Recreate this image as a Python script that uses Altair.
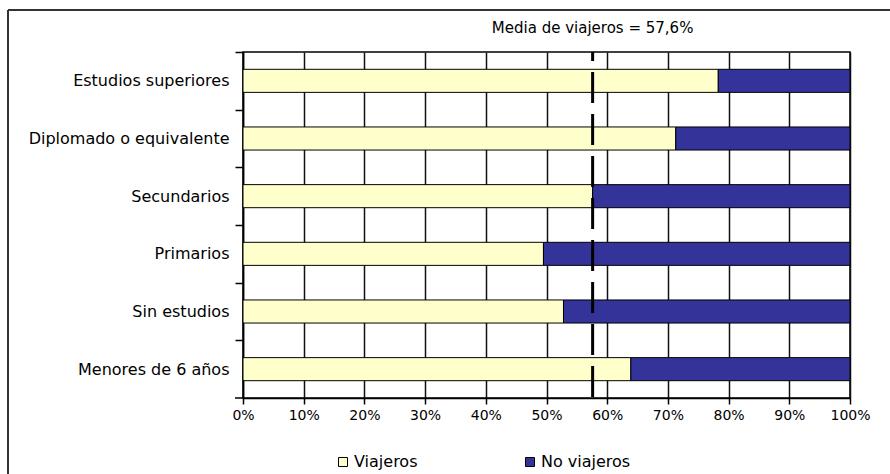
import altair as alt
import pandas as pd

# Share of travellers by education level (percent)
categories = [
    "Estudios superiores",
    "Diplomado o equivalente",
    "Secundarios",
    "Primarios",
    "Sin estudios",
    "Menores de 6 años",
]
viajeros = [78.3, 71.3, 57.6, 49.5, 52.8, 63.9]
no_viajeros = [21.7, 28.7, 42.4, 50.5, 47.2, 36.1]
series = ["Viajeros", "No viajeros"]
colors = ["#FFFFCC", "#333399"]
media = 57.6
media_label = "Media de viajeros = 57,6%"
x_ticks = [i / 10 for i in range(11)]

FONT = "DejaVu Sans"
W, H = 607, 346
HALF_STEP = H / len(categories) / 2

rows = []
for cat, v, nv in zip(categories, viajeros, no_viajeros):
    rows.append({"nivel": cat, "grupo": series[0], "orden": 0, "pct": v})
    rows.append({"nivel": cat, "grupo": series[1], "orden": 1, "pct": nv})
df = pd.DataFrame(rows)
media_df = pd.DataFrame({"x": [media / 100], "label": [media_label]})

x_scale = alt.Scale(domain=[0, 1], nice=False)

bars = alt.Chart(df).mark_bar(stroke="black", strokeWidth=1).encode(
    y=alt.Y(
        "nivel:N",
        sort=categories,
        title=None,
        scale=alt.Scale(paddingInner=0.6, paddingOuter=0.3),
        axis=alt.Axis(
            labelFont=FONT,
            labelFontSize=16,
            labelColor="black",
            labelPadding=6,
            labelLimit=300,
            tickOffset=-HALF_STEP,
            labelOffset=HALF_STEP,
            tickSize=8,
            tickColor="black",
            tickWidth=1.5,
            domainColor="black",
            domainWidth=1.5,
        ),
    ),
    x=alt.X(
        "pct:Q",
        stack="normalize",
        title=None,
        scale=x_scale,
        axis=alt.Axis(
            values=x_ticks,
            format=".0%",
            labelFont=FONT,
            labelFontSize=14,
            labelColor="black",
            labelPadding=4,
            labelFlush=False,
            tickSize=6,
            tickColor="black",
            tickWidth=1.5,
            domainColor="black",
            domainWidth=1.5,
            grid=True,
            gridColor="#111111",
            gridWidth=1.5,
        ),
    ),
    color=alt.Color(
        "grupo:N",
        sort=series,
        scale=alt.Scale(domain=series, range=colors),
        legend=alt.Legend(
            title=None,
            orient="none",
            legendX=92,
            legendY=402,
            direction="horizontal",
            columns=2,
            columnPadding=104,
            symbolType="square",
            symbolSize=81,
            symbolStrokeColor="black",
            symbolStrokeWidth=1,
            symbolOffset=0,
            labelFont=FONT,
            labelFontSize=16,
            labelColor="black",
            labelOffset=3,
        ),
    ),
    order=alt.Order("orden:Q"),
)

media_rule = alt.Chart(media_df).mark_rule(
    color="black", strokeWidth=3, strokeDash=[31, 11], strokeDashOffset=22
).encode(x=alt.X("x:Q", scale=x_scale))

media_text = alt.Chart(media_df).mark_text(
    font=FONT, fontSize=15, color="black", baseline="middle"
).encode(x=alt.X("x:Q", scale=x_scale), y=alt.value(-24), text="label:N")

# Closing tick of the category axis at the bottom-left corner
corner_tick = alt.Chart(media_df).mark_rule(color="black", strokeWidth=1.5).encode(
    x=alt.value(-8), x2=alt.value(0), y=alt.value(H)
)

# Outer frame around the figure
frame_left = alt.Chart(media_df).mark_rule(color="#333333", strokeWidth=2).encode(
    x=alt.value(-235), y=alt.value(-42), y2=alt.value(440)
)
frame_top = alt.Chart(media_df).mark_rule(color="#333333", strokeWidth=2).encode(
    x=alt.value(-235), x2=alt.value(660), y=alt.value(-42)
)

chart = (
    alt.layer(bars, media_rule, media_text, corner_tick, frame_left, frame_top)
    .properties(
        width=W,
        height=H,
        autosize=alt.AutoSizeParams(type="none"),
        padding={"left": 243, "top": 52, "right": 40, "bottom": 76},
        background="white",
    )
    .configure_view(stroke="black", strokeWidth=1.5)
)

chart.save("out.html", embed_options={"renderer": "svg", "actions": False})
